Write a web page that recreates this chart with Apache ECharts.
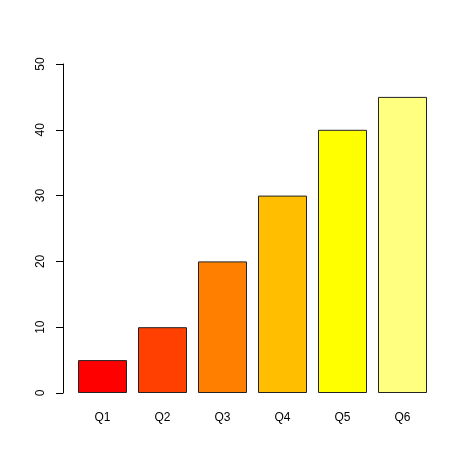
<!DOCTYPE html>
<html>
<head>
<meta charset="utf-8">
<script src="https://cdn.jsdelivr.net/npm/echarts@6/dist/echarts.min.js"></script>
<style>
  html, body { margin: 0; padding: 0; background: #fff; }
  #chart { width: 474px; height: 473px; }
</style>
</head>
<body>
<div id="chart"></div>
<script>
// quarters and their values
var categories = ['Q1', 'Q2', 'Q3', 'Q4', 'Q5', 'Q6']
var values = [5, 10, 20, 30, 40, 45]
// heat.colors(6)
var barColors = ['#FF0000', '#FF4000', '#FF8000', '#FFBF00', '#FFFF00', '#FFFF80']
var yTicks = { min: 0, max: 50, interval: 10 }

var chart = echarts.init(document.getElementById('chart'), null, { renderer: 'canvas' })

var option = {
  backgroundColor: '#fff',
  animation: false,
  grid: {
    left: 72.5,
    right: 41.5,
    top: 64,
    bottom: 80
  },
  xAxis: {
    type: 'category',
    data: categories,
    axisLine: { show: false },
    axisTick: { show: false },
    axisLabel: {
      color: '#000',
      fontFamily: 'Liberation Sans, Arial, sans-serif',
      fontSize: 12,
      margin: 19
    }
  },
  yAxis: {
    type: 'value',
    min: yTicks.min,
    max: yTicks.max,
    interval: yTicks.interval,
    offset: 9.5,
    axisLine: { show: true, lineStyle: { color: '#000', width: 1 } },
    axisTick: { show: true, length: 7, lineStyle: { color: '#000' } },
    splitLine: { show: false },
    axisLabel: {
      color: '#000',
      rotate: 90,
      fontFamily: 'Liberation Sans, Arial, sans-serif',
      fontSize: 12,
      margin: 16
    }
  },
  series: [
    {
      type: 'bar',
      data: values.map(function (v, i) {
        return { value: v, itemStyle: { color: barColors[i] } }
      }),
      barWidth: 49,
      itemStyle: {
        borderColor: '#222',
        borderWidth: 1
      }
    }
  ]
}

chart.setOption(option)
</script>
</body>
</html>
